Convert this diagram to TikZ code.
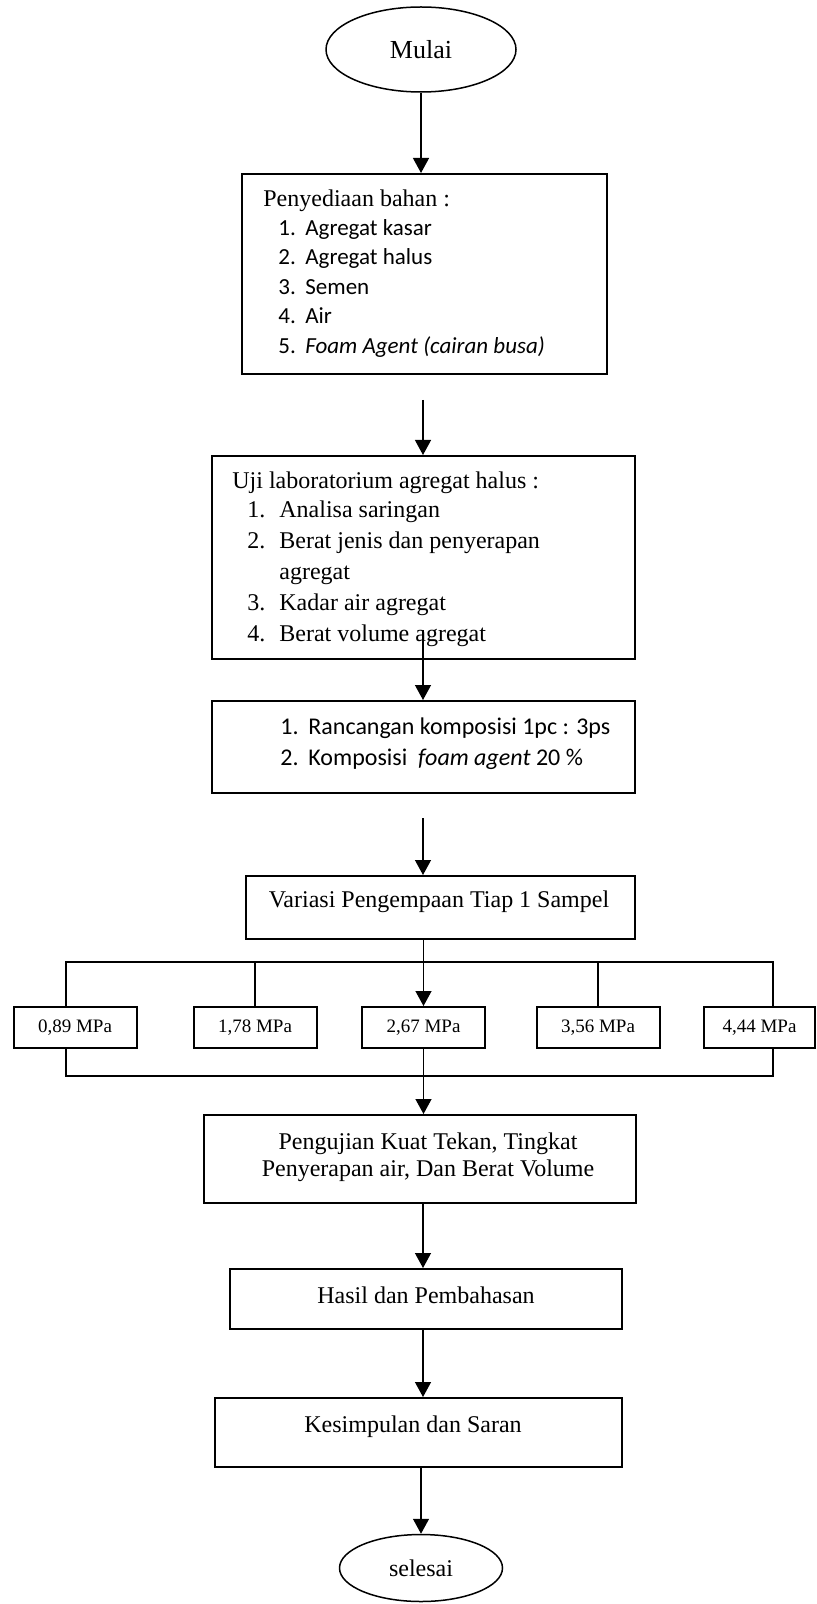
\documentclass[tikz,border=0pt]{standalone}
\usepackage{fontspec}
\setmainfont{Liberation Serif}
\newfontfamily\calibri{Carlito}
\usetikzlibrary{shapes.geometric,arrows.meta}

\begin{document}
\begin{tikzpicture}[x=0.5pt,y=-0.5pt,
        box/.style={draw,line width=1pt,inner sep=0pt},
        mpa/.style={box,minimum width=61.5pt,minimum height=20.5pt,font=\fontsize{9.5}{11}\selectfont},
        oval/.style={draw,ellipse,line width=0.75pt,inner sep=0pt,font=\fontsize{12}{14}\selectfont},
        txt/.style={anchor=base,inner sep=0pt,font=\fontsize{12}{14}\selectfont},
        lst/.style={anchor=base west,inner sep=0pt,font=\fontsize{12}{14}\selectfont},
        lstc/.style={anchor=base west,inner sep=0pt,font=\calibri\fontsize{11.5}{14}\selectfont},
        arr/.style={-{Triangle[length=7.5pt,width=8pt]},line width=0.65pt},
        bus/.style={line width=0.85pt}]
        \useasboundingbox (0,0) rectangle (816,1604);
        \node[oval,minimum width=95pt,minimum height=42.5pt,font=\fontsize{13}{15}\selectfont] (S) at (421,49.5) {Mulai};
        \node[box,minimum width=182.5pt,minimum height=100pt] (B1) at (424.5,274) {};
        \node[lst] (B1h) at (263,207) {Penyediaan bahan :};
        \node[lstc] (B1a) at (278,236) {\makebox[13.5pt][l]{1.}Agregat kasar};
        \node[lstc] (B1b) at (278,265) {\makebox[13.5pt][l]{2.}Agregat halus};
        \node[lstc] (B1c) at (278,295) {\makebox[13.5pt][l]{3.}Semen};
        \node[lstc] (B1d) at (278,324) {\makebox[13.5pt][l]{4.}Air};
        \node[lstc] (B1e) at (278,354) {\makebox[13.5pt][l]{5.}\textit{Foam Agent (cairan busa)}};
        \node[box,minimum width=211.5pt,minimum height=101.5pt] (B2) at (423.5,557.5) {};
        \node[lst] (B2h) at (232,488) {Uji laboratorium agregat halus :};
        \node[lst] (B2a) at (247,517) {\makebox[16pt][l]{1.}Analisa saringan};
        \node[lst] (B2b) at (247,548) {\makebox[16pt][l]{2.}Berat jenis dan penyerapan};
        \node[lst] (B2c) at (279,579) {agregat};
        \node[lst] (B2d) at (247,610) {\makebox[16pt][l]{3.}Kadar air agregat};
        \node[lst] (B2e) at (247,641) {\makebox[16pt][l]{4.}Berat volume agregat};
        \node[box,minimum width=211.5pt,minimum height=46pt] (B3) at (423.5,747) {};
        \node[lstc,font=\calibri\fontsize{12}{14}\selectfont] (B3a) at (280,734) {\makebox[14pt][l]{1.}Rancangan komposisi 1pc : 3ps};
        \node[lstc,font=\calibri\fontsize{12}{14}\selectfont] (B3b) at (280,765) {\makebox[14pt][l]{2.}Komposisi\ \ \textit{foam agent} 20 \%};
        \node[box,minimum width=194.5pt,minimum height=31.5pt] (V) at (440.5,907.5) {};
        \node[txt] (Vt) at (439,907) {Variasi Pengempaan Tiap 1 Sampel};
        \node[mpa] (P1) at (75,1027.5) {0,89 MPa};
        \node[mpa] (P2) at (255,1027.5) {1,78 MPa};
        \node[mpa] (P3) at (423.5,1027.5) {2,67 MPa};
        \node[mpa] (P4) at (598,1027.5) {3,56 MPa};
        \node[mpa,minimum width=55.5pt] (P5) at (759.5,1027.5) {4,44 MPa};
        \node[box,minimum width=216pt,minimum height=44pt] (U) at (420,1159) {};
        \node[txt] (U1) at (428,1149) {Pengujian Kuat Tekan, Tingkat};
        \node[txt] (U2) at (428,1176) {Penyerapan air, Dan Berat Volume};
        \node[box,minimum width=196pt,minimum height=30pt] (H) at (426,1299) {};
        \node[txt] (Ht) at (426,1303) {Hasil dan Pembahasan};
        \node[box,minimum width=203.5pt,minimum height=34.5pt] (K) at (418.5,1432.5) {};
        \node[txt] (Kt) at (413,1432) {Kesimpulan dan Saran};
        \node[oval,minimum width=81.5pt,minimum height=33.5pt] (E) at (421,1568) {selesai};
        \coordinate (ax) at (423,0);
        \coordinate (a1) at (423,400);
        \coordinate (a2) at (423,630);
        \coordinate (a3) at (423,818);
        \coordinate (TL) at (66,962);
        \coordinate (TR) at (773,962);
        \coordinate (BL) at (66,1076);
        \coordinate (BR) at (773,1076);
        \draw[arr] (S) -- (S |- B1.north);
        \draw[arr] (a1) -- (a1 |- B2.north);
        \draw[arr] (a2) -- (a2 |- B3.north);
        \draw[arr] (a3) -- (a3 |- V.north);
        \draw[arr] (V.south -| P3) -- (P3.north);
        \draw[bus] (TL |- P1.north) -- (TL) -- (TR) -- (TR |- P5.north);
        \draw[bus] (P2.north |- TL) -- (P2.north);
        \draw[bus] (P4.north |- TL) -- (P4.north);
        \draw[bus] (BL |- P1.south) -- (BL) -- (BR) -- (BR |- P5.south);
        \draw[bus] (P3.south) -- (P3.south |- BL);
        \draw[arr] (P3.south |- BL) -- (P3.south |- U.north);
        \draw[arr] (ax |- U.south) -- (ax |- H.north);
        \draw[arr] (ax |- H.south) -- (ax |- K.north);
        \draw[arr] (E.north |- K.south) -- (E.north);
\end{tikzpicture}
\end{document}
